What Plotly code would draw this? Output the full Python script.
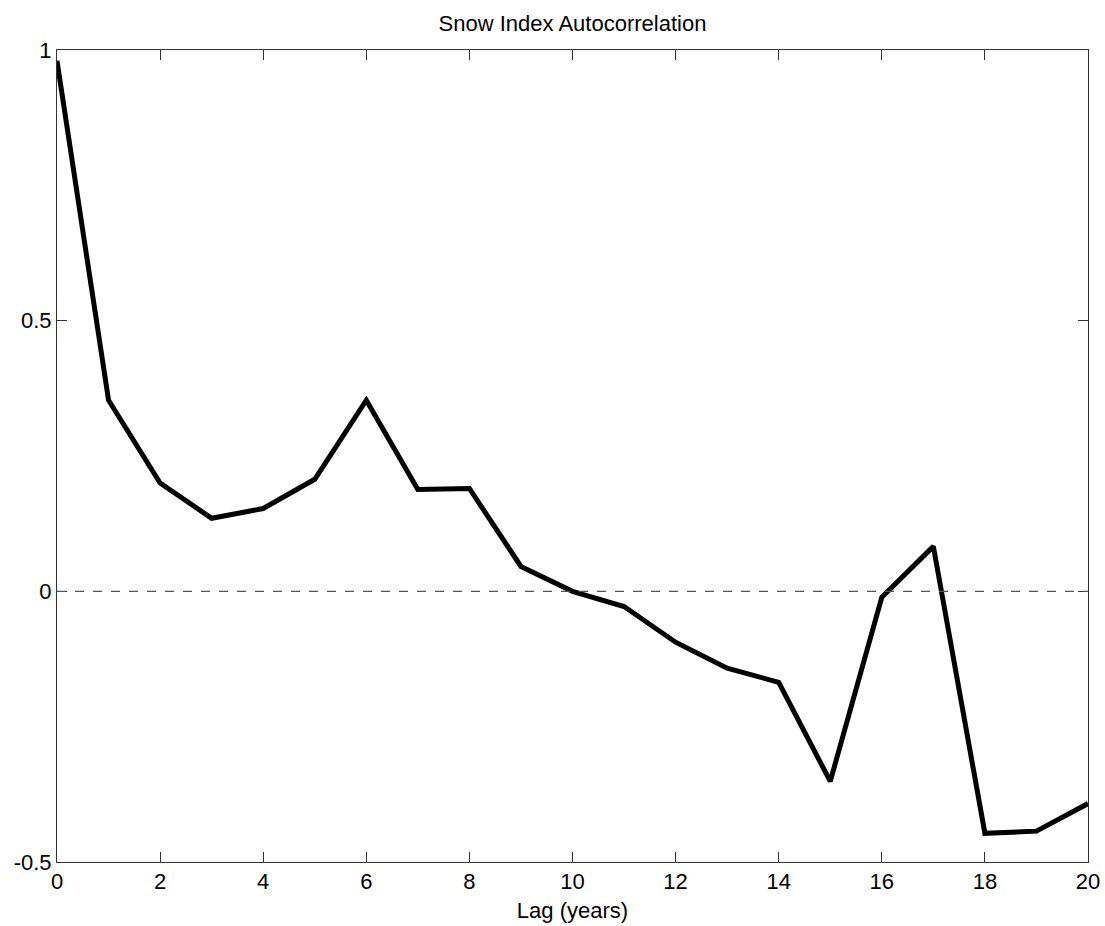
import plotly.graph_objects as go

lags = list(range(0, 21))
acf = [0.98, 0.353, 0.200, 0.135, 0.153, 0.207, 0.353, 0.188, 0.190, 0.046, 0.000,
       -0.028, -0.094, -0.142, -0.168, -0.351, -0.011, 0.083, -0.447, -0.443, -0.392]
x_ticks = list(range(0, 21, 2))
y_ticks = [-0.5, 0, 0.5, 1]
y_tick_labels = ["-0.5", "0", "0.5", "1"]

font = dict(family="Liberation Sans, Arial, sans-serif", size=22, color="black")

fig = go.Figure()
fig.add_trace(go.Scatter(x=lags, y=acf, mode="lines",
                         line=dict(color="black", width=5), showlegend=False))
fig.add_hline(y=0, line=dict(color="#555555", width=1.2, dash="dash"))

axis_common = dict(showgrid=False, zeroline=False, showline=True, linecolor="#333333",
                   linewidth=1, mirror="ticks", ticks="inside", ticklen=10,
                   tickcolor="#333333", tickfont=font, automargin=False)

fig.update_xaxes(range=[0, 20], tickvals=x_ticks, **axis_common,
                 title=dict(text="Lag (years)", font=font, standoff=9))
fig.update_yaxes(range=[-0.5, 1], tickvals=y_ticks, ticktext=y_tick_labels, **axis_common)

fig.update_layout(
    width=1105, height=926,
    margin=dict(l=57, r=17, t=50, b=64, autoexpand=False),
    paper_bgcolor="white", plot_bgcolor="white",
    title=dict(text="Snow Index Autocorrelation", font=font, x=0.5, xref="paper",
               xanchor="center", y=1 - 23 / 926, yanchor="middle"),
    font=font,
)

fig.write_html("out.html", config={"displayModeBar": False},
               post_script="document.body.style.margin='0';")
